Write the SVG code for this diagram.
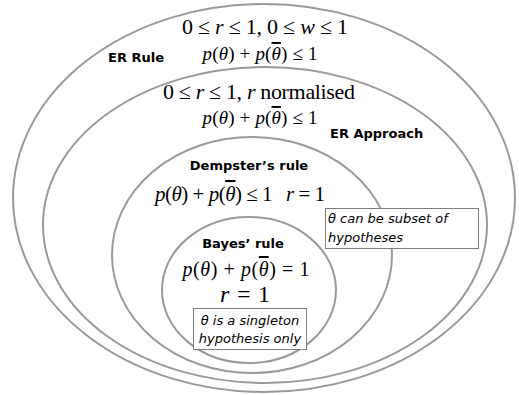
<svg xmlns="http://www.w3.org/2000/svg" width="519" height="395" viewBox="0 0 519 395">
<style>
.ell{fill:none;stroke:#9a9a9a;stroke-width:2}
.lbl{font-family:"DejaVu Sans",Verdana,sans-serif;font-weight:bold;font-size:13px;fill:#000}
.math{font-family:"Liberation Serif","Times New Roman",serif;fill:#000}
.it{font-style:italic}
.bar{text-decoration:overline}
.note{font-family:"DejaVu Sans",Verdana,sans-serif;font-style:italic;font-size:13px;fill:#000}
.box{fill:#fff;stroke:#7f7f7f;stroke-width:1}
</style>
<rect width="519" height="395" fill="#fff"/>
<g id="er-rule">
<ellipse class="ell" cx="264" cy="198" rx="251" ry="194"/>
<text class="math" x="265" y="34" font-size="22" text-anchor="middle" textLength="166" lengthAdjust="spacing">0 ≤ <tspan class="it">r</tspan> ≤ 1, 0 ≤ <tspan class="it">w</tspan> ≤ 1</text>
<text class="math" x="260" y="60" font-size="19" text-anchor="middle" textLength="115" lengthAdjust="spacing"><tspan class="it">p</tspan>(<tspan class="it">θ</tspan>) + <tspan class="it">p</tspan>(<tspan class="it bar">θ</tspan>) ≤ 1</text>
<text class="lbl" x="108" y="62">ER Rule</text>
</g>
<g id="er-approach">
<ellipse class="ell" cx="265" cy="225" rx="222" ry="158"/>
<text class="math" x="259" y="99" font-size="22" text-anchor="middle" textLength="192" lengthAdjust="spacing">0 ≤ <tspan class="it">r</tspan> ≤ 1, <tspan class="it">r</tspan> normalised</text>
<text class="math" x="260" y="124" font-size="19" text-anchor="middle" textLength="115" lengthAdjust="spacing"><tspan class="it">p</tspan>(<tspan class="it">θ</tspan>) + <tspan class="it">p</tspan>(<tspan class="it bar">θ</tspan>) ≤ 1</text>
<text class="lbl" x="330" y="138">ER Approach</text>
</g>
<g id="dempster">
<ellipse class="ell" cx="252" cy="255" rx="140" ry="118"/>
<text class="lbl" x="249" y="170" text-anchor="middle">Dempster’s rule</text>
<text class="math" x="155" y="201" font-size="21" textLength="170" lengthAdjust="spacing"><tspan class="it">p</tspan>(<tspan class="it">θ</tspan>) + <tspan class="it">p</tspan>(<tspan class="it bar">θ</tspan>) ≤ 1<tspan class="it" dx="14">r</tspan> = 1</text>
<rect class="box" x="325.5" y="208.5" width="153" height="40"/>
<text class="note" x="328" y="223">θ can be subset of</text>
<text class="note" x="328" y="242">hypotheses</text>
</g>
<g id="bayes">
<ellipse class="ell" cx="249" cy="290" rx="87" ry="73"/>
<text class="lbl" x="243" y="248" text-anchor="middle">Bayes’ rule</text>
<text class="math" x="246" y="276" font-size="20" text-anchor="middle" textLength="127" lengthAdjust="spacing"><tspan class="it">p</tspan>(<tspan class="it">θ</tspan>) + <tspan class="it">p</tspan>(<tspan class="it bar">θ</tspan>) = 1</text>
<text class="math" x="245" y="302" font-size="24" text-anchor="middle" textLength="50" lengthAdjust="spacing"><tspan class="it">r</tspan> = 1</text>
<rect class="box" x="193.5" y="308.5" width="113" height="41"/>
<text class="note" x="250" y="325" text-anchor="middle">θ is a singleton</text>
<text class="note" x="250" y="343" text-anchor="middle">hypothesis only</text>
</g>
<g id="connectors"/>
</svg>
